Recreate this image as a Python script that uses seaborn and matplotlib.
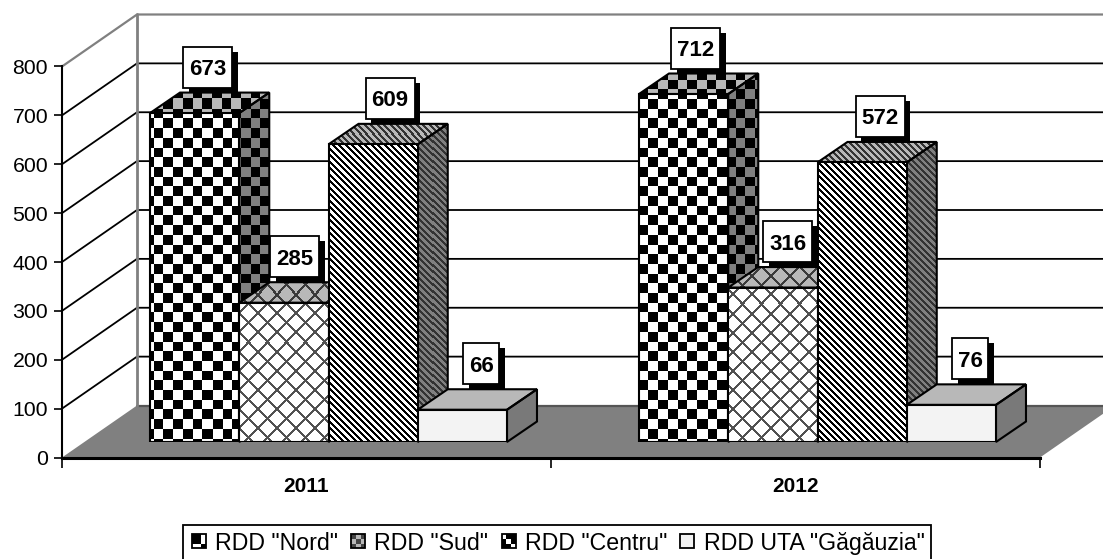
import numpy as np, pandas as pd
import matplotlib
matplotlib.use("Agg")
import matplotlib.pyplot as plt
import seaborn as sns
from matplotlib.patches import Polygon, Rectangle, Patch
from matplotlib.legend_handler import HandlerBase

years = ["2011", "2012"]
series = ['RDD "Nord"', 'RDD "Sud"', 'RDD "Centru"', 'RDD UTA "Găgăuzia"']
nord = [673, 712]
sud = [285, 316]
centru = [609, 572]
uta = [66, 76]
yticks = [0, 100, 200, 300, 400, 500, 600, 700, 800]
label_nudge = [13, 12, 11, 15, 17, 18, 19, 19]   # px, same order as the bars

W, H = 1103, 559
sns.set_theme(style="white")
plt.rcParams['font.family'] = ['Liberation Sans', 'DejaVu Sans']
fig = plt.figure(figsize=(W/100, H/100), dpi=100, facecolor="white")

L, B0, AW, AH = 62, 457.5, 978, 391
ax = fig.add_axes([L/W, (H-B0)/H, AW/W, AH/H])
ax.set_xlim(-.5, 1.5); ax.set_ylim(0, 800)
ax_bar = fig.add_axes([(L+22)/W, (H-B0+15.5)/H, AW/W, AH/H])

PXX = 2/AW; PXY = 800/AH
wdx, wdy = 75*PXX, 52*PXY

# walls and floor
ax.add_patch(Polygon([(-.5, 0), (-.5+wdx, wdy), (1.5+wdx, wdy), (1.5, 0)], closed=True,
                     fc="#808080", ec="none", zorder=1, clip_on=False))
for v in yticks[1:]:
    c = "#808080" if v == 800 else "black"
    ax.plot([-.5, -.5+wdx, 1.5+wdx], [v, v+wdy, v+wdy], color=c, lw=1.3 if v < 800 else 1.6, zorder=1.2, clip_on=False)
ax.plot([-.5+wdx, 1.5+wdx], [wdy, wdy], color="#555555", lw=1.6, zorder=1.2, clip_on=False)
ax.plot([-.5+wdx, -.5+wdx], [wdy, 800+wdy], color="#808080", lw=2.0, zorder=1.3, clip_on=False)
ax.patch.set_visible(False)
sns.despine(ax=ax, top=True, right=True)
ax.spines['left'].set_linewidth(1.5); ax.spines['left'].set_color("black")
ax.spines['bottom'].set_linewidth(2.2); ax.spines['bottom'].set_color("black")
ax.spines['bottom'].set_zorder(1.5)
ax.set_yticks(yticks)
ax.set_xticks([0, 1], years, fontweight="bold", fontsize=15, color="black")
ax.set_xticks([-.5, .5, 1.5], minor=True)
ax.tick_params(axis="x", which="major", length=0, pad=14)
ax.tick_params(axis="x", which="minor", length=7, width=1.2, color="black", bottom=True)
ax.tick_params(axis="y", length=6, width=1.2, color="black", left=True, labelsize=15.3, labelcolor="black", pad=4)

# bars
df = pd.DataFrame({"year": years, series[0]: nord, series[1]: sud, series[2]: centru, series[3]: uta})
long = df.melt(id_vars="year", var_name="series", value_name="value")
sns.barplot(data=long, x="year", y="value", hue="series", hue_order=series, order=years, ax=ax_bar,
            width=.73, gap=0, dodge=True, legend=False, palette=["white"]*4, saturation=1,
            edgecolor="black", linewidth=1.5)
ax_bar.set_xlim(-.5, 1.5); ax_bar.set_ylim(0, 800)
ax_bar.set_autoscale_on(False)
ax_bar.axis("off")

def checker(x, y):
    return (((np.floor((x-163)/9.7)) + np.floor((y-118)/9.7)) % 2).astype(float)
def cross(x, y):
    p = 19
    line = (((x + y) % p) < 3) | (((x - y) % p) < 3)
    return np.where(line, .32, 1.0)
def stripes(x, y):
    return (((x - y) % 6.5) < 3.25).astype(float)
def solid(x, y):
    return np.full(x.shape, .95)
patterns = [checker, cross, stripes, solid]

def to_px(pts):
    p = ax_bar.transData.transform(pts)
    p[:, 1] = H - p[:, 1]
    return p

def textured(face, fn, shade, z, lift=0.0):
    """Fill a clip artist with a pattern aligned on the image pixels."""
    if isinstance(face, Rectangle):
        corners = face.get_bbox().get_points()
    else:
        corners = face.get_xy()
    pts = to_px(np.asarray(corners))
    x0, x1 = int(np.floor(pts[:, 0].min())), int(np.ceil(pts[:, 0].max()))
    y0, y1 = int(np.floor(pts[:, 1].min())), int(np.ceil(pts[:, 1].max()))
    xs, ys = np.meshgrid(np.arange(x0, x1), np.arange(y0, y1))
    arr = np.maximum(fn(xs, ys) * shade, lift)
    inv = ax_bar.transData.inverted()
    (dl, db), (dr, dt) = inv.transform([(x0, H-y1), (x1, H-y0)])
    im = ax_bar.imshow(arr, extent=(dl, dr, db, dt), origin="upper", aspect="auto", cmap="gray",
                       vmin=0, vmax=1, interpolation="nearest", zorder=z)
    im.set_clip_path(face)
    im.set_clip_on(True)
    return im

dx, dy = 30*PXX, 20.5*PXY
bars = list(ax_bar.patches)
n_h, n_c = len(series), len(years)
z = 3
for c in range(n_c):
    for h in range(n_h):
        b = bars[h*n_c + c]
        x0, w, v = b.get_x(), b.get_width(), b.get_height()
        x1 = x0 + w
        top = Polygon([(x0, v), (x0+dx, v+dy), (x1+dx, v+dy), (x1, v)], closed=True, fc="none", ec="black", lw=1.5, zorder=z+.5, clip_on=False)
        side = Polygon([(x1, 0), (x1+dx, dy), (x1+dx, v+dy), (x1, v)], closed=True, fc="none", ec="black", lw=1.5, zorder=z+.5, clip_on=False)
        ax_bar.add_patch(side); ax_bar.add_patch(top)
        lift = .2 if h == 2 else 0.0
        textured(side, patterns[h], .5, z, lift)
        textured(top, patterns[h] if h < 3 else (lambda a, b: np.full(a.shape, 1.0)), .72, z, lift)
        textured(b, patterns[h], 1.0, z+.6)
        b.set_facecolor("none"); b.set_zorder(z+.7)
        z += 1

# value labels
order = [(c, h) for c in range(n_c) for h in range(n_h)]
nudge_by_bar = dict(zip([(0,0),(1,0),(0,1),(1,1),(0,2),(1,2),(0,3),(1,3)], label_nudge))
for c, h in order:
    b = bars[h*n_c + c]
    v = b.get_height()
    cx = b.get_x() + b.get_width()/2 + nudge_by_bar[(c, h)]*PXX
    bw = (49 if v >= 100 else 36)*PXX
    bh = 41*PXY
    by = v + 25.5*PXY
    ax_bar.add_patch(Rectangle((cx-bw/2+5.5*PXX, by-5*PXY), bw, bh, fc="black", ec="black", lw=0, zorder=40, clip_on=False))
    ax_bar.add_patch(Rectangle((cx-bw/2, by), bw, bh, fc="white", ec="black", lw=1.3, zorder=41, clip_on=False))
    ax_bar.text(cx, by+bh/2, f"{int(v)}", ha="center", va="center_baseline", fontsize=16, fontweight="bold",
                color="black", zorder=42, clip_on=False)

# legend
class Icon(HandlerBase):
    def __init__(self, grid):
        super().__init__(); self.grid = grid
    def create_artists(self, legend, orig, xd, yd, w, h, fs, trans):
        out = []
        s = 10
        xo, yo = (w-s)/2 - xd, (h-s)/2 - yd
        g = self.grid; n = len(g)
        for r in range(n):
            for q in range(n):
                out.append(Rectangle((xo+q*s/n, yo+(n-1-r)*s/n), s/n, s/n, fc=g[r][q], ec="none", transform=trans))
        out.append(Rectangle((xo, yo), s, s, fc="none", ec="black", lw=1.3, transform=trans))
        return out

k, w_, g_, d_ = "black", "white", "#b8b8b8", "#444444"
icons = [[[k, k, w_], [k, k, w_], [w_, w_, k]],
         [[d_, g_, d_], [g_, d_, g_], [d_, g_, d_]],
         [[w_, k, k], [k, w_, k], [k, k, w_]],
         [["#f2f2f2"]]]
handles = [Patch(label=s) for s in series]
leg = fig.legend(handles=handles, labels=series, ncol=4, loc="lower left",
                 bbox_to_anchor=(183/W, (H-561)/H), bbox_transform=fig.transFigure, fontsize=16.7, frameon=True,
                 fancybox=False, edgecolor="black", framealpha=1, borderaxespad=0, borderpad=.28,
                 handlelength=.8, handleheight=.7, handletextpad=.3, columnspacing=.47, labelcolor="black",
                 handler_map={h: Icon(i) for h, i in zip(handles, icons)})
leg.get_frame().set_linewidth(1.3)

fig.savefig("out.png", dpi=100, facecolor="white")
